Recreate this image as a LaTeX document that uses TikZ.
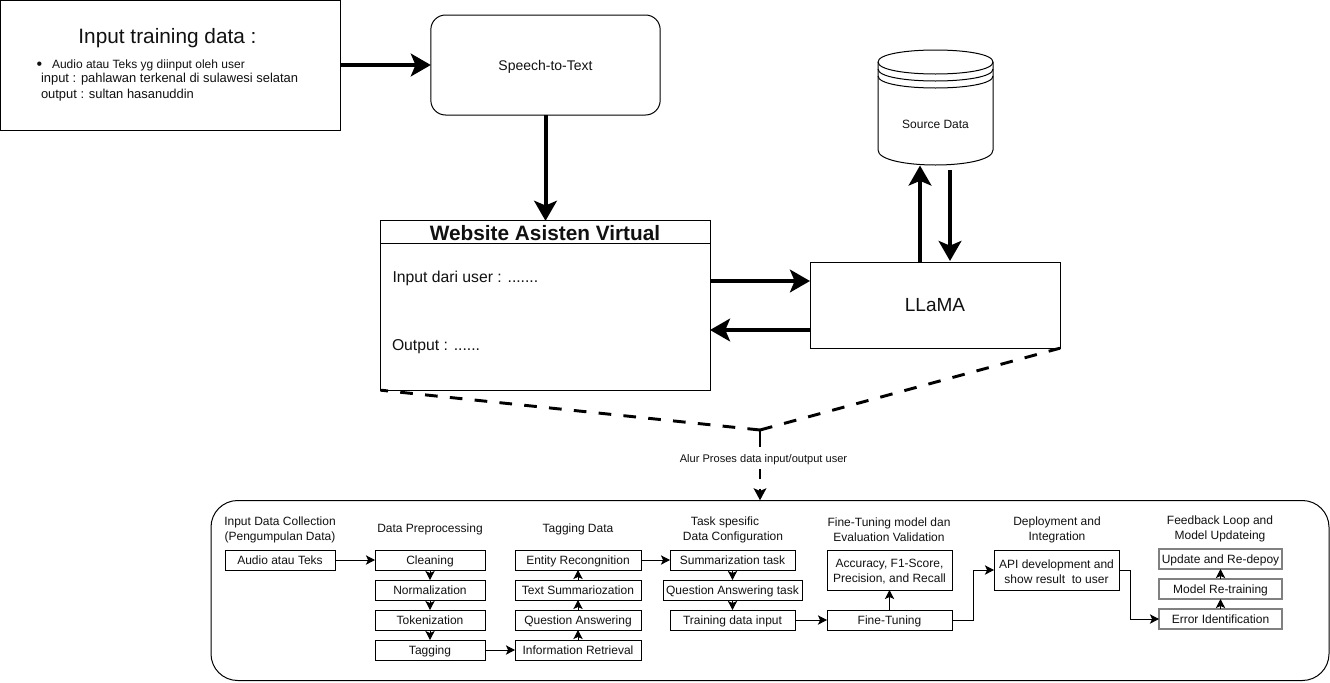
\documentclass[tikz,border=0pt]{standalone}
\usepackage{fontspec}
\setmainfont{Liberation Sans}
\usetikzlibrary{arrows.meta}
\newcommand{\fa}{\fontsize{9}{11.2}\selectfont}
\newcommand{\fb}{\fontsize{11.8}{14}\selectfont}
\newcommand{\fc}{\fontsize{15.6}{18}\selectfont}
\newcommand{\fe}{\fontsize{9.7}{12}\selectfont}
\newcommand{\upfix}{\rule{0pt}{8.5pt}}
\definecolor{ink}{HTML}{111111}
\definecolor{graybox}{HTML}{808080}
\tikzset{
  x=0.75pt,y=-0.75pt,
  every node/.style={text=ink,font=\fa,inner sep=0pt,outer sep=0pt},
  shape box/.style={draw=black,line width=0.75pt,fill=white,align=center},
  small/.style={shape box,minimum height=15pt,text height=7.5pt,text depth=0.7pt},
  wide/.style={small,minimum width=82.5pt},
  tall/.style={shape box,minimum width=93.75pt,minimum height=30pt},
  grayb/.style={small,draw=graybox,line width=1.5pt,minimum width=92.25pt},
  head/.style={align=center},
  thin arrow/.style={draw=black,line width=0.75pt,-{Stealth[length=6.8pt,width=7pt,inset=1.6pt]}},
  thick arrow/.style={draw=black,line width=3pt,-{Stealth[length=15pt,width=17pt,inset=3.5pt]}},
  dash line/.style={draw=black,line width=2.2pt,dash pattern=on 9.5pt off 9.2pt},
}
\begin{document}
\begin{tikzpicture}
\useasboundingbox (0,0) rectangle (1330,682);
\fill[white] (0,0) rectangle (1330,682);

% upper part
\node[shape box,minimum width=255pt,minimum height=97.5pt] (input) at (170,65) {};
\node[font=\fc] (inputtitle) at (167.5,38.5) {Input training data :};
\node[anchor=west,font=\fontsize{12}{12}\selectfont] (bullet) at (36.5,65.5) {\textbullet};
\node[anchor=west] (inputa) at (52,65.5) {Audio atau Teks yg diinput oleh user};
\node[anchor=west,font=\fe] (inputb) at (41,79) {input : pahlawan terkenal di sulawesi selatan};
\node[anchor=west,font=\fe] (inputc) at (41,95) {output : sultan hasanuddin};

\node[shape box,rounded corners=11pt,minimum width=172pt,minimum height=75pt,font=\fontsize{10.5}{12}\selectfont,text height=8pt,text depth=0.5pt] (stt) at (545.5,65) {Speech-to-Text};

\node[shape box,minimum width=247.5pt,minimum height=127pt] (web) at (545.5,305.5) {};
\draw[black,line width=0.75pt] (web.north west) ++(0,23) coordinate (webl) -- (webl -| web.east);
\node[font=\bfseries\fc] (webtitle) at (545,233) {Website Asisten Virtual};
\node[anchor=west,font=\fb] (webin) at (392.5,278) {Input dari user : .......};
\node[anchor=west,font=\fb] (webout) at (392,347) {Output : ......};

\node[shape box,minimum width=187.5pt,minimum height=64pt,font=\fontsize{14.25}{16}\selectfont] (llama) at (935,305.5) {LLaMA};

% source data cylinder
\draw[black,line width=0.75pt,fill=white]
  (878,62) .. controls (878,46) and (993,46) .. (993,62)
  -- (993,150) .. controls (993,170) and (878,170) .. (878,150) -- cycle;
\draw[black,line width=0.75pt]
  (878,62) .. controls (878,78) and (993,78) .. (993,62)
  (878,69) .. controls (878,85) and (993,85) .. (993,69)
  (878,76) .. controls (878,92) and (993,92) .. (993,76);
\node (src) at (935.5,124) {Source Data};

% thick connectors
\draw[thick arrow] (input.east |- stt.west) -- (stt.west);
\draw[thick arrow] (stt.south) -- (stt.south |- web.north);
\coordinate (wa) at (710,281);
\coordinate (wb) at (710,330);
\draw[thick arrow] (wa) -- (wa -| llama.west);
\draw[thick arrow] (wb -| llama.west) -- (wb);
\coordinate (ua) at (920,263);
\coordinate (ub) at (950,170);
\coordinate (uc) at (920,165.5);
\coordinate (ud) at (950,261);
\draw[thick arrow] (ua) -- (uc);
\draw[thick arrow] (ub) -- (ud);

% dashed links
\coordinate (meet) at (760,430);
\coordinate (pin) at (760,500.3);
\draw[dash line] (meet) -- (web.south west);
\draw[dash line] (meet) -- (llama.south east);
\draw[draw=black,line width=1.5pt,dash pattern=on 12.5pt off 16.5pt on 7.5pt off 7.5pt,-{Stealth[length=9pt,width=9.5pt,inset=2pt]}] (meet) -- (pin);
\node[fill=white,inner ysep=3pt,inner xsep=1pt,font=\fontsize{8.3}{9}\selectfont] (flowlabel) at (763.5,460) {Alur Proses data input/output user};

% panel
\node[draw=black,line width=0.75pt,rounded corners=20pt,minimum width=838.5pt,minimum height=135pt] (panel) at (770,590.5) {};

% headers
\node[head] (h1) at (280,529.5) {Input Data Collection\\(Pengumpulan Data)};
\node[head] (h2) at (430,529) {Data Preprocessing};
\node[head] (h3) at (578,529) {Tagging Data};
\node[head] (h4) at (733,529.5) {Task spesific\hspace*{12pt}\\Data Configuration};
\node[head] (h5) at (889,529.5) {Fine-Tuning model dan\\Evaluation Validation};
\node[head] (h6) at (1057,530) {Deployment and\\Integration};
\node[head] (h7) at (1220,529) {Feedback Loop and\\Model Updateing};

% column 1, 2
\node[small,minimum width=82.5pt] (audio) at (280,560) {Audio atau Teks};
\node[wide] (clean) at (430,560) {Cleaning};
\node[wide] (norm) at (430,590) {Normalization};
\node[wide] (token) at (430,620) {Tokenization};
\node[wide] (tagg) at (430,650) {Tagging};
% column 3
\node[small,minimum width=94.5pt] (entity) at (578,560) {Entity Recongnition};
\node[small,minimum width=94.5pt] (textsum) at (578,590) {Text Summariozation};
\node[small,minimum width=94.5pt] (qa) at (578,620) {Question Answering};
\node[small,minimum width=94.5pt] (ir) at (578,650) {Information Retrieval};
% column 4
\node[small,minimum width=93.75pt] (sumtask) at (732.5,560) {Summarization task};
\node[small,minimum width=104.25pt] (qatask) at (732.5,590) {Question Answering task};
\node[small,minimum width=93.75pt] (train) at (732.5,620) {Training data input};
% column 5
\node[tall] (acc) at (889.5,570) {\upfix Accuracy, F1-Score,\\Precision, and Recall};
\node[small,minimum width=93.75pt] (fine) at (889.5,620) {Fine-Tuning};
% column 6
\node[tall] (api) at (1056.5,570) {\upfix API development and\\show result\ \ to user};
% column 7
\node[grayb] (update) at (1220.5,559) {Update and Re-depoy};
\node[grayb] (retrain) at (1220.5,589) {Model Re-training};
\node[grayb] (error) at (1220.5,619) {Error Identification};

% thin connectors
\draw[thin arrow] (audio) -- (clean);
\draw[thin arrow] (clean) -- (norm);
\draw[thin arrow] (norm) -- (token);
\draw[thin arrow] (token) -- (tagg);
\draw[thin arrow] (tagg) -- (ir);
\draw[thin arrow] (ir) -- (qa);
\draw[thin arrow] (qa) -- (textsum);
\draw[thin arrow] (textsum) -- (entity);
\draw[thin arrow] (entity) -- (sumtask);
\draw[thin arrow] (sumtask) -- (qatask);
\draw[thin arrow] (qatask) -- (train);
\draw[thin arrow] (train) -- (fine);
\draw[thin arrow] (fine) -- (acc);
\draw[thin arrow] (fine.east) -- ++(21,0) |- (api.west);
\draw[thin arrow] (api.east) -- ++(11,0) |- (error.west);
\draw[thin arrow] (error) -- (retrain);
\draw[thin arrow] (retrain) -- (update);
\end{tikzpicture}
\end{document}
